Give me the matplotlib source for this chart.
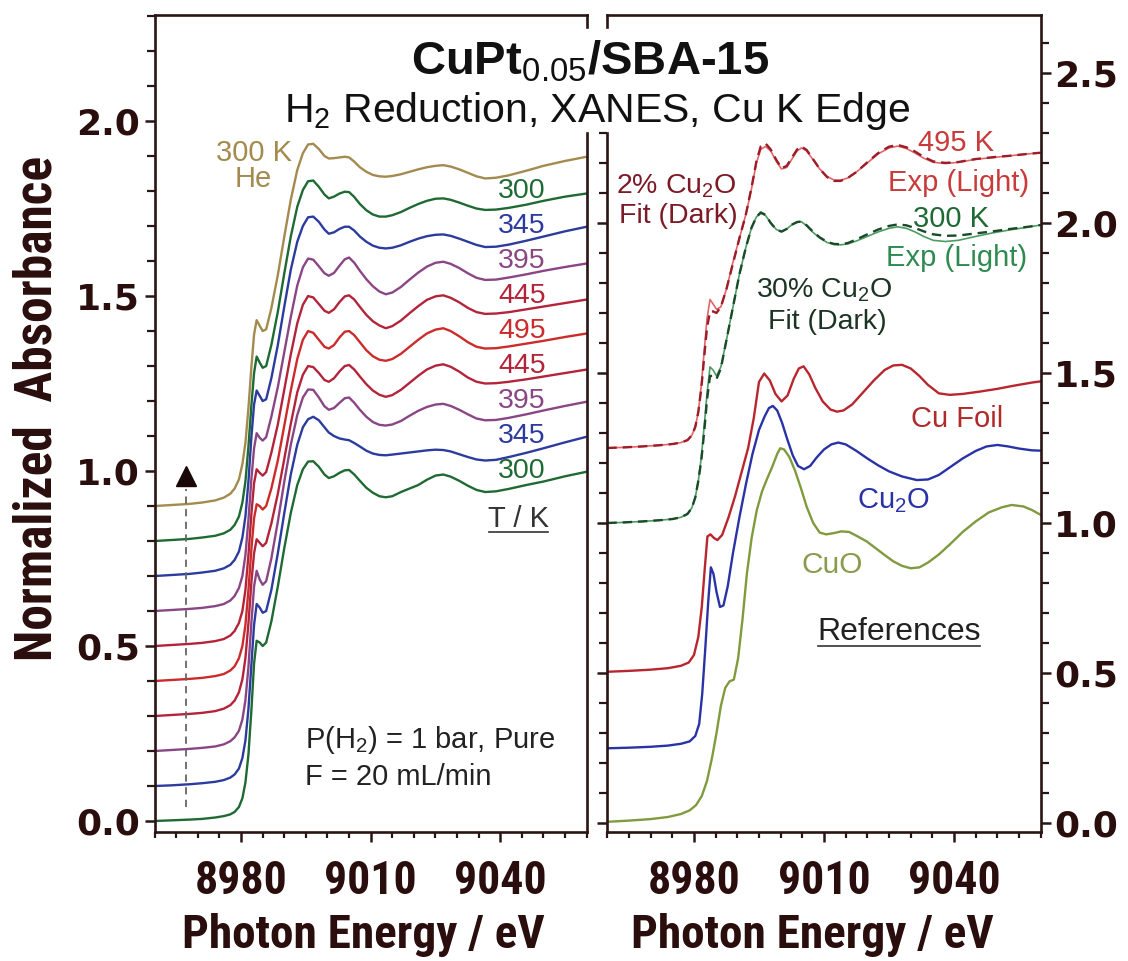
import matplotlib
matplotlib.use("Agg")
import matplotlib.pyplot as plt
from matplotlib.ticker import FixedLocator, MultipleLocator, NullFormatter
from matplotlib.lines import Line2D
import numpy as np

plt.rcParams["mathtext.fontset"] = "custom"
plt.rcParams["mathtext.rm"] = "Liberation Sans"
plt.rcParams["mathtext.it"] = "Liberation Sans:italic"
plt.rcParams["mathtext.bf"] = "Liberation Sans:bold"

# ---------------------------------------------------------------- data
# Left panel: common energy grid (eV); spectra relative to their own baseline
E_LEFT = [8960, 8964, 8968, 8971, 8974, 8976, 8977.5, 8978.5, 8979.5, 8980.3,
          8981, 8981.7, 8982.4, 8983, 8983.6, 8984.3, 8985, 8985.8, 8987, 8988.5,
          8990, 8991.5, 8993, 8994.3, 8995.5, 8996.7, 8998, 8999.3, 9000.3, 9001.5,
          9002.8, 9004, 9005, 9006.2, 9007.5, 9009, 9010.5, 9012, 9013.5, 9015,
          9017, 9019, 9021, 9023, 9025, 9026.8, 9028.5, 9030.5, 9032.5, 9034.5,
          9036.5, 9039, 9042, 9046, 9050, 9055, 9060]

MU_300_START = [.000, .002, .004, .006, .010, .014, .019, .026, .040, .065,
                .11, .19, .32, .45, .515, .51, .50, .51, .57, .67,
                .78, .88, .96, 1.005, 1.027, 1.028, 1.012, .99, .980, .985,
                .995, 1.002, 1.003, .99, .972, .952, .938, .928, .925, .928,
                .94, .95, .96, .975, .987, .99, .984, .972, .958, .946,
                .94, .942, .949, .96, .97, .985, .998]
MU_345_UP = [.000, .002, .005, .008, .012, .017, .024, .033, .050, .08,
             .13, .22, .35, .46, .52, .51, .495, .50, .56, .665,
             .78, .89, .975, 1.025, 1.048, 1.055, 1.045, 1.025, 1.01, 1.0,
             .993, .99, .988, .98, .97, .958, .95, .946, .945, .947,
             .95, .953, .956, .959, .961, .96, .956, .948, .94, .933,
             .93, .932, .94, .952, .965, .982, .998]
MU_395_UP = [.000, .003, .006, .009, .013, .019, .028, .039, .058, .09,
             .145, .24, .37, .47, .515, .49, .475, .485, .55, .655,
             .77, .875, .96, 1.01, 1.033, 1.032, 1.01, .985, .975, .98,
             .995, 1.008, 1.01, .995, .975, .955, .94, .932, .93, .933,
             .943, .958, .972, .983, .99, .992, .986, .975, .962, .95,
             .945, .946, .952, .962, .973, .986, .998]
MU_445_UP = [.000, .003, .006, .009, .014, .021, .031, .044, .068, .105,
             .165, .265, .385, .465, .505, .495, .485, .495, .55, .635,
             .735, .835, .925, .975, 1.0, .997, .98, .96, .955, .965,
             .985, 1.0, 1.003, .99, .97, .948, .93, .918, .912, .917,
             .932, .952, .972, .99, 1.001, 1.005, .998, .984, .967, .955,
             .95, .951, .955, .962, .97, .98, .99]
MU_495 = [.000, .003, .006, .009, .014, .020, .030, .042, .065, .10,
          .16, .26, .38, .465, .505, .50, .49, .50, .55, .63,
          .73, .83, .92, .975, 1.000, .995, .975, .955, .950, .960,
          .982, .998, 1.000, .988, .968, .945, .928, .918, .915, .920,
          .935, .955, .975, .993, 1.004, 1.008, 1.000, .985, .968, .955,
          .950, .951, .956, .964, .972, .983, .993]
MU_445_DOWN = [.000, .003, .006, .009, .014, .020, .030, .043, .066, .10,
               .16, .26, .38, .465, .505, .495, .487, .497, .552, .633,
               .733, .833, .922, .975, 1.0, .996, .977, .958, .952, .962,
               .983, .999, 1.002, .99, .969, .946, .928, .916, .908, .914,
               .93, .951, .971, .989, .999, 1.002, .995, .982, .966, .954,
               .949, .95, .954, .962, .97, .98, .99]
MU_395_DOWN = [.000, .003, .006, .009, .014, .020, .030, .043, .066, .10,
               .16, .26, .38, .465, .508, .495, .487, .497, .555, .64,
               .74, .84, .93, .982, 1.007, 1.004, .985, .965, .958, .966,
               .987, 1.005, 1.01, .995, .972, .948, .928, .913, .905, .91,
               .926, .947, .967, .984, .995, .998, .992, .98, .965, .952,
               .946, .947, .953, .962, .972, .983, .993]
MU_345_DOWN = [.000, .003, .006, .010, .015, .022, .032, .046, .07, .11,
               .17, .27, .40, .49, .53, .515, .50, .505, .565, .66,
               .77, .875, .955, 1.0, 1.025, 1.027, 1.012, .99, .978, .982,
               .992, .998, .998, .987, .97, .955, .944, .938, .936, .938,
               .945, .955, .964, .971, .975, .976, .972, .964, .955, .946,
               .94, .941, .947, .958, .97, .985, .998]
MU_300_END = [.000, .003, .006, .010, .015, .022, .032, .046, .07, .11,
              .17, .27, .39, .48, .527, .51, .495, .50, .56, .655,
              .765, .87, .955, 1.003, 1.028, 1.03, 1.012, .99, .979, .984,
              .993, .998, .997, .983, .963, .945, .933, .927, .927, .931,
              .94, .952, .963, .972, .978, .979, .975, .967, .958, .95,
              .946, .947, .952, .961, .972, .984, .993]
MU_300_HE = [.000, .003, .006, .010, .016, .024, .035, .050, .076, .12,
             .18, .28, .40, .49, .531, .515, .50, .505, .565, .66,
             .77, .875, .96, 1.008, 1.033, 1.035, 1.02, 1.0, .993, .994,
             .996, .998, .996, .984, .968, .955, .946, .942, .941, .943,
             .948, .955, .962, .968, .972, .974, .97, .962, .952, .942,
             .936, .938, .945, .958, .972, .986, .998]

LEFT_SERIES = [MU_300_START, MU_345_UP, MU_395_UP, MU_445_UP, MU_495,
               MU_445_DOWN, MU_395_DOWN, MU_345_DOWN, MU_300_END, MU_300_HE]
LEFT_OFFSETS = [0.0, 0.1, 0.2, 0.3, 0.4, 0.5, 0.6, 0.7, 0.8, 0.9]
LEFT_TEMPS = ["300", "345", "395", "445", "495", "445", "395", "345", "300"]

# Right panel: linear-combination fits vs experiment (relative to baseline)
E_FIT = [8960, 8964, 8968, 8972, 8975, 8977, 8978.5, 8979.5, 8980.3, 8981,
         8981.7, 8982.4, 8983, 8983.7, 8984.4, 8985.2, 8986.2, 8987.5, 8989, 8990.5,
         8992, 8993.3, 8994.4, 8995.4, 8996.5, 8997.7, 8999, 9000.2, 9001.4, 9002.7,
         9003.8, 9004.8, 9006, 9007.5, 9009, 9010.7, 9012.3, 9013.8, 9015.5, 9017.5,
         9020, 9022.5, 9025, 9027, 9029, 9031, 9033, 9035.2, 9038, 9041,
         9045, 9049, 9053, 9057, 9060]
EXP_495 = [.000, .002, .005, .009, .013, .018, .026, .042, .07, .12,
           .21, .33, .43, .495, .48, .462, .47, .53, .62, .70,
           .78, .865, .95, .995, 1.005, .99, .955, .93, .935, .965,
           .99, 1.0, .99, .96, .93, .905, .893, .892, .9, .92,
           .95, .98, 1.0, 1.006, .998, .983, .966, .952, .948, .952,
           .962, .968, .974, .98, .984]
FIT_495 = [.000, .002, .005, .009, .013, .018, .026, .042, .07, .12,
           .20, .31, .40, .455, .455, .45, .47, .53, .615, .70,
           .78, .87, .955, 1.005, 1.015, .995, .96, .932, .94, .97,
           .995, 1.005, .993, .962, .93, .903, .89, .89, .9, .92,
           .952, .983, 1.004, 1.01, 1.002, .988, .97, .955, .95, .953,
           .963, .969, .974, .98, .984]
EXP_300 = [.000, .002, .005, .009, .013, .019, .03, .05, .085, .14,
           .22, .33, .43, .52, .51, .49, .52, .61, .72, .83,
           .92, .985, 1.02, 1.032, 1.025, 1.0, .978, .971, .98, .995,
           1.002, 1.004, .99, .968, .95, .935, .928, .927, .93, .94,
           .955, .97, .982, .987, .982, .97, .955, .942, .938, .942,
           .955, .967, .977, .986, .993]
FIT_300 = [.000, .002, .005, .009, .013, .019, .03, .05, .085, .14,
           .21, .31, .41, .49, .49, .48, .515, .61, .72, .83,
           .92, .985, 1.02, 1.035, 1.027, 1.0, .978, .971, .98, .995,
           1.003, 1.005, .992, .97, .952, .937, .93, .929, .933, .945,
           .962, .978, .99, .995, .992, .983, .972, .962, .957, .958,
           .965, .972, .98, .987, .993]
BASE_495 = 1.25
BASE_300 = 1.00

# Right panel: reference spectra (absolute, already offset)
E_CUFOIL = [8960, 8965, 8970, 8974, 8977, 8978.8, 8980, 8981, 8981.8, 8982.5,
            8983.1, 8983.8, 8984.6, 8985.4, 8986.5, 8988, 8989.5, 8991, 8992.5, 8993.8,
            8995, 8996.2, 8997.5, 8998.8, 9000.2, 9001.6, 9003, 9004.2, 9005.3, 9006.6,
            9008, 9009.7, 9011.5, 9013, 9014.5, 9016.5, 9019, 9021.5, 9024, 9026,
            9028, 9030, 9032, 9034, 9036.5, 9039, 9042, 9046, 9050, 9054,
            9058, 9060]
MU_CUFOIL = [.504, .507, .511, .516, .524, .535, .56, .62, .72, .85,
             .955, .962, .95, .943, .96, 1.02, 1.09, 1.17, 1.25, 1.35,
             1.47, 1.498, 1.475, 1.43, 1.405, 1.425, 1.48, 1.515, 1.522, 1.495,
             1.45, 1.405, 1.378, 1.371, 1.375, 1.395, 1.435, 1.475, 1.51, 1.525,
             1.527, 1.515, 1.49, 1.46, 1.432, 1.427, 1.43, 1.438, 1.447, 1.458,
             1.468, 1.472]
E_CU2O = [8960, 8965, 8970, 8974, 8977, 8979, 8980.3, 8981.2, 8981.9, 8982.6,
          8983.3, 8983.9, 8984.5, 8985.2, 8986, 8986.8, 8987.8, 8989, 8990.5, 8992,
          8993.5, 8995, 8996.3, 8997.3, 8998.2, 8999.2, 9000.3, 9001.5, 9002.8, 9004,
          9005.4, 9006.8, 9008.3, 9010, 9011.7, 9013.3, 9015, 9017.5, 9020, 9022.5,
          9025, 9028, 9031.4, 9034, 9036.5, 9039, 9042, 9045, 9047.5, 9050,
          9052.5, 9055, 9058, 9060]
MU_CU2O = [.249, .251, .254, .258, .264, .272, .29, .33, .43, .58,
           .74, .852, .83, .77, .72, .725, .79, .90, 1.02, 1.13,
           1.23, 1.31, 1.355, 1.383, 1.39, 1.375, 1.335, 1.28, 1.225, 1.19,
           1.179, 1.19, 1.218, 1.245, 1.262, 1.268, 1.262, 1.24, 1.215, 1.192,
           1.172, 1.155, 1.143, 1.145, 1.16, 1.185, 1.215, 1.24, 1.255, 1.26,
           1.255, 1.248, 1.242, 1.241]
E_CUO = [8960, 8965, 8970, 8974, 8977, 8979, 8980.5, 8981.8, 8983, 8984.2,
         8985.2, 8986.2, 8987.2, 8988.2, 8989.2, 8990.2, 8991.2, 8992.2, 8993.3, 8994.5,
         8995.7, 8996.8, 8998, 8999.2, 8999.9, 9000.8, 9002, 9003.3, 9004.7, 9006,
         9007.5, 9009, 9010.5, 9012.2, 9014, 9015.8, 9017.8, 9019.9, 9022, 9024,
         9026, 9028, 9030, 9032, 9034, 9036.5, 9039, 9042, 9045, 9048,
         9051, 9053.3, 9056, 9058, 9060]
MU_CUO = [.004, .008, .013, .02, .03, .042, .06, .09, .14, .22,
          .30, .39, .45, .472, .478, .55, .68, .83, .95, 1.043,
          1.105, 1.145, 1.185, 1.23, 1.249, 1.245, 1.22, 1.175, 1.115, 1.054,
          1.0, .968, .962, .966, .972, .97, .955, .938, .915, .893,
          .872, .857, .849, .852, .868, .895, .928, .97, 1.005, 1.035,
          1.052, 1.06, 1.055, 1.043, 1.027]

# ---------------------------------------------------------------- styles
C_OLIVE = "#a38a4f"
C_GREEN = "#1f6a33"
C_BLUE = "#2c3b9e"
C_PURPLE = "#8a4684"
C_RED445 = "#b3243a"
C_RED495 = "#cc2b2b"
LEFT_COLORS = [C_GREEN, C_BLUE, C_PURPLE, C_RED445, C_RED495, C_RED445,
               C_PURPLE, C_BLUE, C_GREEN, C_OLIVE]
INK = "#2a0d0d"
SPINE = "#2a1515"
LW = 1.7

TXT = ["Liberation Sans", "DejaVu Sans"]
COND = ["Roboto Condensed", "DejaVu Sans"]
WIDE = ["DejaVu Sans"]

W, H = 1128, 961
fig = plt.figure(figsize=(W / 100, H / 100), dpi=100)


def fx(px):
    return px / W


def fy(py):
    return 1 - py / H


ax_bottom, ax_top = 832, 15
axL = fig.add_axes([fx(154.7), fy(ax_bottom), (586.7 - 154.7) / W, (ax_bottom - ax_top) / H])
axR = fig.add_axes([fx(607.3), fy(ax_bottom), (1040.7 - 607.3) / W, (ax_bottom - ax_top) / H])

axL.set_xlim(8960, 9060)
axL.set_ylim(-0.0314, 2.303)
axR.set_xlim(8960, 9060)
axR.set_ylim(-0.03, 2.693)

# ---------------- left curves
for mu, off, col in zip(LEFT_SERIES, LEFT_OFFSETS, LEFT_COLORS):
    axL.plot(E_LEFT, np.array(mu) + off, color=col, lw=LW,
             solid_joinstyle="round", solid_capstyle="round")

for t, off, col in zip(LEFT_TEMPS, LEFT_OFFSETS, LEFT_COLORS):
    axL.text(9045.0, off + 1.0, t, color=col, fontsize=20.5, family=TXT,
             ha="center", va="center")

axL.text(8982.9, 1.872, "300 K\nHe", color=C_OLIVE, fontsize=21, family=TXT,
         ha="center", va="center", linespacing=0.92)
tk = axL.text(9044.3, 0.863, "T / K", color="#333333", fontsize=21, family=TXT,
              ha="center", va="center")
axL.text(8994.7, 0.208, "P(H$_2$) = 1 bar, Pure", color="#222222", fontsize=21,
         family=TXT, ha="left", va="baseline")
axL.text(8994.7, 0.103, "F = 20 mL/min", color="#222222", fontsize=21,
         family=TXT, ha="left", va="baseline")

ARROW_E = 8967.2
axL.plot([ARROW_E, ARROW_E], [0.04, 0.95], ls=(0, (4, 3)), color="#666666", lw=1.3)
axL.plot([ARROW_E], [0.985], marker="^", ms=15, color="#1a0808", mec="#1a0808")

# ---------------- right curves
axR.plot(E_FIT, np.array(EXP_495) + BASE_495, color="#e0666a", lw=1.2)
axR.plot(E_FIT, np.array(FIT_495) + BASE_495, color="#9c1c28", lw=1.7, ls=(0, (4, 2.5)))
axR.plot(E_FIT, np.array(EXP_300) + BASE_300, color="#4d9c62", lw=1.2)
axR.plot(E_FIT, np.array(FIT_300) + BASE_300, color="#1b4a2a", lw=1.7, ls=(0, (4, 2.5)))
axR.plot(E_CUFOIL, MU_CUFOIL, color="#b8262e", lw=LW, solid_joinstyle="round")
axR.plot(E_CU2O, MU_CU2O, color="#2a33a5", lw=LW, solid_joinstyle="round")
axR.plot(E_CUO, MU_CUO, color="#809a3e", lw=LW, solid_joinstyle="round")

RFS = 21
axR.text(9040.5, 2.267, "495 K", color="#c93a3a", fontsize=RFS, family=TXT, ha="center", va="center")
axR.text(9041.0, 2.133, "Exp (Light)", color="#c93a3a", fontsize=RFS, family=TXT, ha="center", va="center")
axR.text(8975.9, 2.098, "2% Cu$_2$O", color="#7c1a26", fontsize=20.5, family=TXT, ha="center", va="baseline")
axR.text(8976.5, 2.000, "Fit (Dark)", color="#7c1a26", fontsize=20.5, family=TXT, ha="center", va="baseline")
axR.text(9039.3, 1.987, "300 K", color="#1e6a36", fontsize=RFS, family=TXT, ha="center", va="baseline")
axR.text(9040.6, 1.857, "Exp (Light)", color="#2e8a50", fontsize=RFS, family=TXT, ha="center", va="baseline")
axR.text(9010.0, 1.752, "30% Cu$_2$O", color="#1c3424", fontsize=20.5, family=TXT, ha="center", va="baseline")
axR.text(9010.7, 1.645, "Fit (Dark)", color="#1c3424", fontsize=20.5, family=TXT, ha="center", va="baseline")
axR.text(9040.7, 1.32, "Cu Foil", color="#b02a2a", fontsize=RFS, family=TXT, ha="center", va="baseline")
axR.text(9026.1, 1.049, "Cu$_2$O", color="#2a33a5", fontsize=RFS, family=TXT, ha="center", va="baseline")
axR.text(9011.9, 0.833, "CuO", color="#8a9c4c", fontsize=21.5, family=TXT, ha="center", va="baseline")
refs = axR.text(9027.3, 0.61, "References", color="#222222", fontsize=23, family=TXT,
                ha="center", va="baseline")

# ---------------- axes styling
MAJ_LEN, MIN_LEN = 7.5, 5.5
for ax in (axL, axR):
    for s in ax.spines.values():
        s.set_linewidth(1.9)
        s.set_color(SPINE)
    ax.xaxis.set_major_locator(FixedLocator([8980, 9010, 9040]))
    ax.xaxis.set_minor_locator(MultipleLocator(5))
    ax.tick_params(axis="x", which="major", direction="out", length=MAJ_LEN, width=1.8,
                   color=SPINE, pad=12, labelsize=33, labelcolor=INK)
    ax.tick_params(axis="x", which="minor", direction="out", length=4, width=1.6, color=SPINE)
    for lab in ax.get_xticklabels():
        lab.set_family(COND)
        lab.set_fontweight("bold")

axL.spines["right"].set_visible(False)
axR.spines["left"].set_visible(False)

axL.yaxis.set_major_locator(FixedLocator([0, 0.5, 1.0, 1.5, 2.0]))
axL.yaxis.set_minor_locator(MultipleLocator(0.1))
axL.tick_params(axis="y", which="major", direction="out", length=MAJ_LEN, width=1.8,
                color=SPINE, pad=3, labelsize=26, labelcolor=INK)
axL.tick_params(axis="y", which="minor", direction="out", length=MIN_LEN, width=1.6, color=SPINE)
axL.set_yticklabels(["0.0", "0.5", "1.0", "1.5", "2.0"])
for lab in axL.get_yticklabels():
    lab.set_family(WIDE)
    lab.set_fontweight("bold")

axR.yaxis.tick_right()
axR.yaxis.set_major_locator(FixedLocator([0, 0.5, 1.0, 1.5, 2.0, 2.5]))
axR.yaxis.set_minor_locator(MultipleLocator(0.1))
axR.tick_params(axis="y", which="major", direction="out", length=MAJ_LEN, width=1.8,
                color=SPINE, pad=2, labelsize=26, labelcolor=INK)
axR.tick_params(axis="y", which="minor", direction="out", length=MIN_LEN, width=1.6, color=SPINE)
axR.set_yticklabels(["0.0", "0.5", "1.0", "1.5", "2.0", "2.5"])
for lab in axR.get_yticklabels():
    lab.set_family(WIDE)
    lab.set_fontweight("bold")

# left-side ticks of the right panel (only below the title gap)
sec = axR.secondary_yaxis("left")
sec.yaxis.set_major_locator(FixedLocator([0, 0.5, 1.0, 1.5, 2.0]))
sec.yaxis.set_minor_locator(FixedLocator([v / 10 for v in range(0, 24) if v % 5]))
sec.yaxis.set_major_formatter(NullFormatter())
sec.tick_params(axis="y", which="major", direction="out", length=MAJ_LEN, width=1.8, color=SPINE)
sec.tick_params(axis="y", which="minor", direction="out", length=MIN_LEN, width=1.6, color=SPINE)
sec.spines["left"].set_visible(False)


# broken inner spines (gap for the title)
def spine_seg(ax, x, y0px, y1px):
    a0 = (ax_bottom - y0px) / (ax_bottom - ax_top)
    a1 = (ax_bottom - y1px) / (ax_bottom - ax_top)
    ax.add_line(Line2D([x, x], [a0, a1], transform=ax.transAxes, color=SPINE,
                       lw=1.9, clip_on=False, solid_capstyle="projecting"))


spine_seg(axL, 1, 15, 27)
spine_seg(axL, 1, 133, 832)
spine_seg(axR, 0, 15, 27)
spine_seg(axR, 0, 133, 832)

# ---------------- titles and axis labels
fig.text(fx(590), fy(75), "CuPt$_{0.05}$/SBA-15", fontsize=34, fontweight="bold",
         family=TXT, color="#111111", ha="center", va="baseline")
fig.text(fx(597), fy(122), "H$_2$ Reduction, XANES, Cu K Edge", fontsize=29.5,
         family=TXT, color="#111111", ha="center", va="baseline")
fig.text(fx(38), fy(408), "Normalized  Absorbance", rotation=90, fontsize=37,
         fontweight="bold", family=COND, color=INK, ha="center", va="center")
fig.text(fx(363), fy(935), "Photon Energy / eV", fontsize=34, fontweight="bold",
         family=COND, color=INK, ha="center", va="center")
fig.text(fx(812), fy(935), "Photon Energy / eV", fontsize=34, fontweight="bold",
         family=COND, color=INK, ha="center", va="center")

# underlines
fig.canvas.draw()
r = fig.canvas.get_renderer()
for t in (tk, refs):
    bb = t.get_window_extent(r)
    p0 = fig.transFigure.inverted().transform((bb.x0 + 1, bb.y0 + 1))
    p1 = fig.transFigure.inverted().transform((bb.x1 - 1, bb.y0 + 1))
    fig.add_artist(Line2D([p0[0], p1[0]], [p0[1], p1[1]], transform=fig.transFigure,
                          color="#333333", lw=1.2))

fig.savefig("out.png", dpi=100)
